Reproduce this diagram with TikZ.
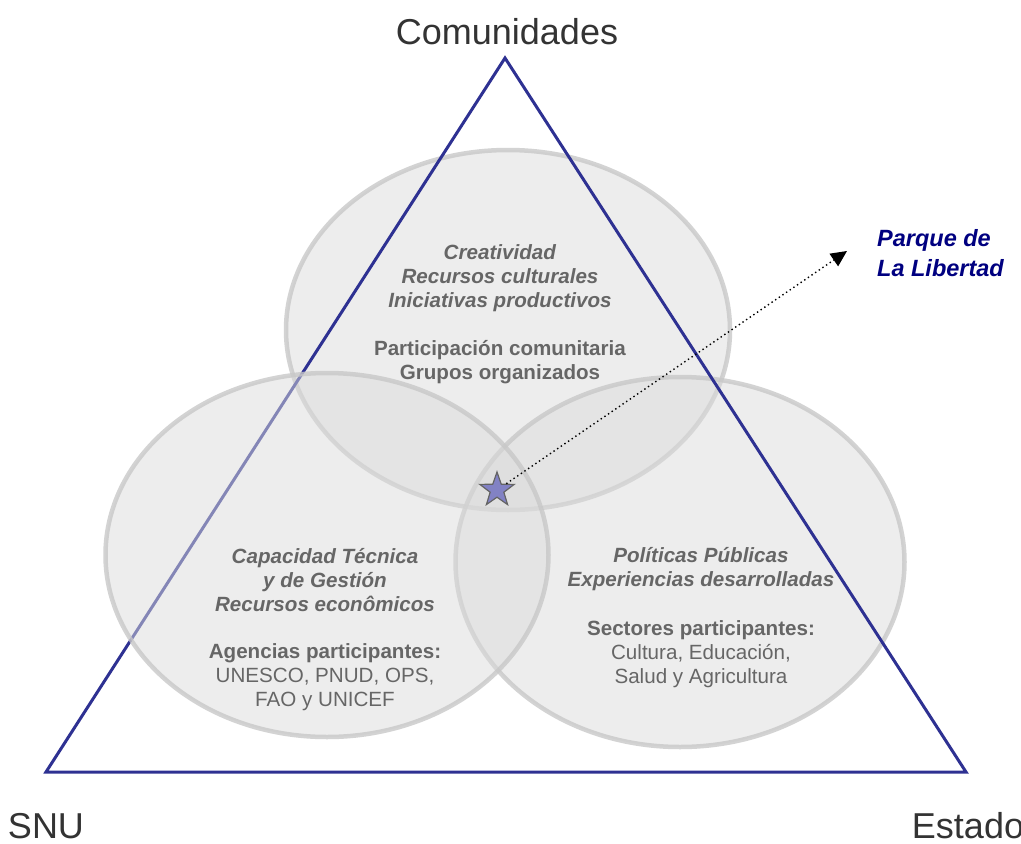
\documentclass[tikz,border=0pt]{standalone}
\usepackage{fontspec}
\setmainfont{Liberation Sans}
\usetikzlibrary{shapes.geometric,arrows.meta}
\definecolor{triline}{RGB}{46,49,146}
\definecolor{circfill}{RGB}{219,219,219}
\definecolor{circline}{RGB}{200,200,200}
\definecolor{bodytext}{RGB}{102,102,102}
\definecolor{cornertext}{RGB}{51,51,51}
\definecolor{parquecol}{RGB}{0,0,128}
\definecolor{starfill}{RGB}{130,130,196}
\definecolor{starline}{RGB}{100,100,100}
\begin{document}
\begin{tikzpicture}[x=1pt,y=-1pt,
  circ/.style={ellipse, draw=circline, draw opacity=0.8, line width=4.5pt,
    fill=circfill, fill opacity=0.5, inner sep=0pt},
  bodyblock/.style={text=bodytext, align=center, inner sep=0pt,
    font=\fontsize{20.6}{24}\selectfont},
  cornerlabel/.style={text=cornertext, inner sep=0pt,
    font=\fontsize{36}{40}\selectfont},
  parquelabel/.style={text=parquecol, align=left, inner sep=0pt,
    font=\fontsize{23.5}{30}\selectfont\bfseries\itshape},
  tri/.style={draw=triline, line width=3pt, line join=miter},
  pointer/.style={line width=1.4pt, dash pattern=on 1.4pt off 3pt,
    -{Triangle[length=16pt,width=15pt]}}
]
\useasboundingbox (0,0) rectangle (1021,844);

% top and right circles (behind triangle)
\node[circ, minimum width=444pt, minimum height=360pt] (ctop) at (508,330) {};
\node[circ, minimum width=449pt, minimum height=370pt] (cright) at (680,562) {};

% triangle
\coordinate (apex) at (505,58);
\coordinate (bl) at (46,772);
\coordinate (br) at (966,772);
\draw[tri] (apex) -- (bl) -- (br) -- cycle;

% left circle (over triangle)
\node[circ, minimum width=443pt, minimum height=364pt] (cleft) at (327,555) {};

% texts
\node[bodyblock] (ttop) at (500,314) {\textbf{\textit{Creatividad}}\\
  \textbf{\textit{Recursos culturales}}\\
  \textbf{\textit{Iniciativas productivos}}\\[24pt]
  \textbf{Participación comunitaria}\\
  \textbf{Grupos organizados}};
\node[bodyblock] (tleft) at (325,630) {\textbf{\textit{Capacidad Técnica}}\\
  \textbf{\textit{y de Gestión}}\\
  \textbf{\textit{Recursos econômicos}}\\[23pt]
  \textbf{Agencias participantes:}\\
  UNESCO, PNUD, OPS,\\
  FAO y UNICEF};
\node[bodyblock] (tright) at (701,618) {\textbf{\textit{Políticas Públicas}}\\
  \textbf{\textit{Experiencias desarrolladas}}\\[25pt]
  \textbf{Sectores participantes:}\\
  Cultura, Educación,\\
  Salud y Agricultura};

% corner labels
\node[cornerlabel] (com) at (507,32) {Comunidades};
\node[cornerlabel] (snu) at (46,826) {SNU};
\node[cornerlabel] (est) at (968,826) {Estado};

% star and pointer
\node[star, star points=5, star point ratio=2.5, minimum size=36pt, inner sep=0pt,
  fill=starfill, draw=starline, line width=1.2pt] (star) at (497,490) {};
\coordinate (tip) at (847,251);
\draw[pointer] (star) -- (tip);
\node[parquelabel, anchor=north west] (parque) at (877,229) {Parque de\\La Libertad};
\end{tikzpicture}
\end{document}
